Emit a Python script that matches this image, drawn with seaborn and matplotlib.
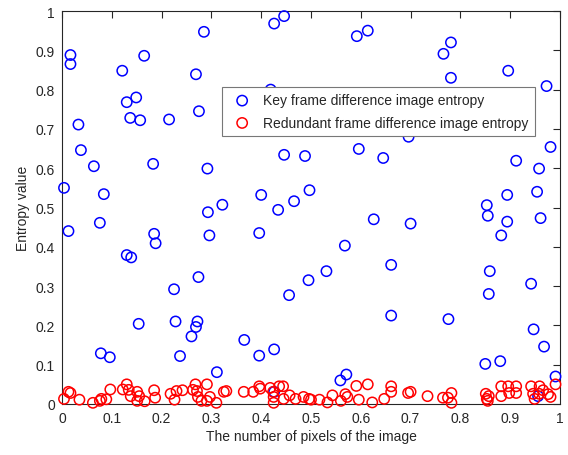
import matplotlib
matplotlib.use("Agg")
import matplotlib.pyplot as plt
import seaborn as sns
import pandas as pd

key_x = [0.285, 0.017, 0.017, 0.165, 0.121, 0.269, 0.149, 0.130, 0.275, 0.137,
         0.157, 0.215, 0.033, 0.038, 0.064, 0.183, 0.292, 0.004, 0.084, 0.446,
         0.426, 0.592, 0.614, 0.419, 0.446, 0.488, 0.596, 0.645, 0.400, 0.497,
         0.322, 0.466, 0.781, 0.766, 0.781, 0.896, 0.973, 0.696, 0.981, 0.912,
         0.958, 0.894, 0.954, 0.853, 0.293, 0.013, 0.076, 0.296, 0.185, 0.188,
         0.130, 0.139, 0.274, 0.225, 0.154, 0.228, 0.272, 0.269, 0.260, 0.078,
         0.096, 0.237, 0.311, 0.434, 0.626, 0.396, 0.568, 0.531, 0.495, 0.456,
         0.366, 0.426, 0.396, 0.571, 0.559, 0.426, 0.700, 0.855, 0.894, 0.961,
         0.882, 0.661, 0.859, 0.942, 0.857, 0.661, 0.776, 0.947, 0.968, 0.850,
         0.880, 0.991, 0.956, 0.543]
key_y = [0.947, 0.888, 0.865, 0.886, 0.848, 0.839, 0.780, 0.768, 0.745, 0.728,
         0.722, 0.724, 0.711, 0.646, 0.605, 0.611, 0.599, 0.550, 0.534, 0.987,
         0.968, 0.936, 0.950, 0.800, 0.634, 0.631, 0.649, 0.626, 0.532, 0.544,
         0.507, 0.516, 0.920, 0.891, 0.830, 0.848, 0.809, 0.680, 0.654, 0.619,
         0.599, 0.532, 0.540, 0.506, 0.488, 0.440, 0.461, 0.429, 0.433, 0.409,
         0.379, 0.373, 0.323, 0.292, 0.204, 0.210, 0.210, 0.196, 0.172, 0.129,
         0.119, 0.122, 0.081, 0.494, 0.470, 0.435, 0.403, 0.338, 0.315, 0.277,
         0.163, 0.139, 0.123, 0.075, 0.060, 0.031, 0.459, 0.479, 0.464, 0.473,
         0.429, 0.354, 0.338, 0.306, 0.280, 0.225, 0.216, 0.190, 0.146, 0.102,
         0.109, 0.070, 0.020, 0.789]

red_x = [0.004, 0.013, 0.017, 0.035, 0.062, 0.076, 0.079, 0.089, 0.097, 0.122,
         0.130, 0.134, 0.138, 0.151, 0.155, 0.151, 0.166, 0.185, 0.187, 0.218,
         0.226, 0.230, 0.242, 0.268, 0.263, 0.271, 0.291, 0.273, 0.280, 0.291,
         0.297, 0.310, 0.325, 0.330, 0.365, 0.384, 0.396, 0.398, 0.418, 0.424,
         0.425, 0.425, 0.436, 0.444, 0.445, 0.457, 0.469, 0.485, 0.496, 0.500,
         0.517, 0.533, 0.543, 0.560, 0.569, 0.573, 0.591, 0.596, 0.614, 0.623,
         0.647, 0.661, 0.661, 0.695, 0.700, 0.734, 0.765, 0.775, 0.782, 0.782,
         0.851, 0.853, 0.855, 0.857, 0.882, 0.882, 0.896, 0.898, 0.912, 0.912,
         0.942, 0.946, 0.959, 0.958, 0.949, 0.966, 0.976, 0.981, 0.991]
red_y = [0.013, 0.031, 0.028, 0.011, 0.003, 0.008, 0.013, 0.012, 0.037, 0.037,
         0.050, 0.036, 0.020, 0.031, 0.020, 0.008, 0.007, 0.035, 0.016, 0.026,
         0.011, 0.033, 0.035, 0.050, 0.036, 0.033, 0.050, 0.018, 0.008, 0.008,
         0.018, 0.003, 0.031, 0.033, 0.031, 0.031, 0.045, 0.039, 0.041, 0.031,
         0.018, 0.003, 0.045, 0.045, 0.013, 0.022, 0.013, 0.018, 0.013, 0.011,
         0.011, 0.004, 0.022, 0.008, 0.025, 0.018, 0.046, 0.011, 0.050, 0.004,
         0.013, 0.045, 0.031, 0.028, 0.031, 0.020, 0.016, 0.016, 0.028, 0.003,
         0.026, 0.013, 0.008, 0.020, 0.045, 0.020, 0.045, 0.028, 0.045, 0.028,
         0.045, 0.026, 0.045, 0.026, 0.013, 0.035, 0.025, 0.018, 0.050]

ticks = [0, 0.1, 0.2, 0.3, 0.4, 0.5, 0.6, 0.7, 0.8, 0.9, 1]
tick_labels = ["0", "0.1", "0.2", "0.3", "0.4", "0.5", "0.6", "0.7", "0.8", "0.9", "1"]
series_names = ["Key frame difference image entropy",
                "Redundant frame difference image entropy"]

sns.set_style("white")
plt.rcParams["font.family"] = ["Liberation Sans", "DejaVu Sans"]
plt.rcParams["font.size"] = 10

fig = plt.figure(figsize=(5.68, 4.56), dpi=100)
ax = fig.add_axes([62 / 568, (456 - 405) / 456, (560 - 62) / 568, (405 - 12) / 456])

key_df = pd.DataFrame({"x": key_x, "y": key_y})
red_df = pd.DataFrame({"x": red_x, "y": red_y})

sns.scatterplot(data=key_df, x="x", y="y", ax=ax, marker="o", s=55,
                facecolor="none", edgecolor="#0000FF", linewidth=1.1,
                label=series_names[0], clip_on=False, zorder=3)
sns.scatterplot(data=red_df, x="x", y="y", ax=ax, marker="o", s=55,
                facecolor="none", edgecolor="#FF0000", linewidth=1.1,
                label=series_names[1], clip_on=False, zorder=3)

ax.set_xlim(0, 1)
ax.set_ylim(0, 1)
ax.set_xticks(ticks)
ax.set_xticklabels(tick_labels)
ax.set_yticks(ticks)
ax.set_yticklabels(tick_labels)
ax.tick_params(direction="in", length=5, width=0.8, top=True, right=True,
               labelsize=10, colors="#262626", pad=5)
for sp in ax.spines.values():
    sp.set_visible(True)
    sp.set_color("#262626")
    sp.set_linewidth(0.8)
ax.set_xlabel("The number of pixels of the image", fontsize=10, color="#262626", labelpad=3)
ax.set_ylabel("Entropy value", fontsize=10, color="#262626", labelpad=4)

leg = ax.legend(loc="upper left", bbox_to_anchor=((222 - 62) / 498, (405 - 88) / 393),
                frameon=True, fancybox=False, framealpha=1, edgecolor="#777777",
                fontsize=10, borderpad=0.45, labelspacing=0.6, handletextpad=0.5,
                borderaxespad=0)
leg.set_zorder(5)
leg.get_frame().set_linewidth(0.8)

fig.savefig("out.png", dpi=100)
